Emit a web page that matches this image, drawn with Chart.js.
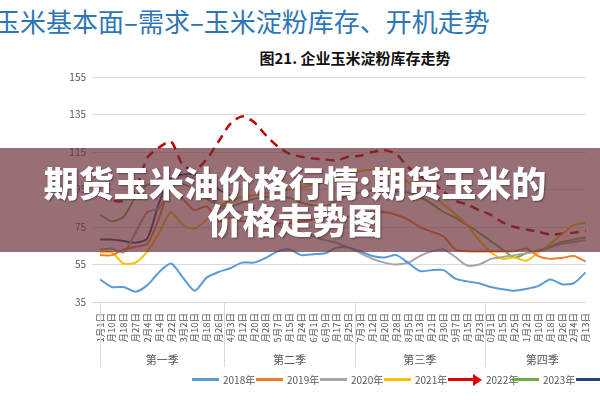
<!DOCTYPE html>
<html>
<head>
<meta charset="utf-8">
<script src="https://cdn.jsdelivr.net/npm/chart.js@4.4.0/dist/chart.umd.min.js"></script>
<style>
  body { margin: 0; width: 600px; height: 400px; overflow: hidden; background: #fff; position: relative; font-family: "Noto Sans CJK SC", sans-serif; }
  #title { position: absolute; left: -6px; top: 2px; font-size: 26px; color: #2e75b6; white-space: nowrap; }
  #subtitle { position: absolute; left: 0; width: 710px; top: 47px; text-align: center; font-size: 15px; font-weight: bold; color: #111; }
  #wrap { position: absolute; left: 0; top: 65px; width: 600px; height: 310px; }
  #band { position: absolute; left: 0; top: 148px; width: 600px; height: 104px; background: rgba(110, 50, 60, 0.7); color: #fff; text-align: center; font-weight: 900; font-size: 35px; line-height: 37px; padding-top: 15px; padding-right: 10px; box-sizing: border-box; text-shadow: 1px 1px 2px rgba(0,0,0,0.4); }
  .lg { position: absolute; top: 372px; font-size: 10px; color: #595959; white-space: nowrap; display: flex; align-items: center; }
  .lg i { display: inline-block; width: 27px; height: 3px; margin-right: 4px; }
</style>
</head>
<body>
<div id="title">玉米基本面–需求–玉米淀粉库存、开机走势</div>
<div id="subtitle">图21. 企业玉米淀粉库存走势</div>
<div id="wrap"><canvas id="chart"></canvas></div>
<div id="legend"></div>
<div id="band">期货玉米油价格行情:期货玉米的<br>价格走势图</div>
<script>
'use strict';

//#region Data

const dates = ['1月1日', '1月10日', '1月18日', '1月27日', '2月4日', '2月14日', '2月22日', '3月2日', '3月10日', '3月18日', '3月26日',
  '4月3日', '4月12日', '4月20日', '4月28日', '5月7日', '5月15日', '5月24日', '6月1日', '6月9日', '6月17日', '6月25日',
  '7月3日', '7月12日', '7月20日', '7月28日', '8月5日', '8月13日', '8月21日', '8月30日', '9月7日', '9月15日', '9月23日',
  '10月1日', '10月15日', '10月25日', '11月2日', '11月10日', '11月18日', '11月26日', '12月4日', '12月13日'];
const quarters = ['第一季', '第二季', '第三季', '第四季'];
const quarterEnds = [10, 21, 32];
const yTicks = [35, 55, 75, 95, 115, 135, 155];

const years = ['2018年', '2019年', '2020年', '2021年', '2022年', '2023年', '2024年'];
const v2018 = [47, 43, 43, 40.5, 44, 51, 55.5, 48, 41, 48, 51, 53, 56, 56, 58.5, 62, 63, 60, 60.5, 61, 64, 64,
  62, 59.5, 58.7, 60, 56, 51.5, 52, 52, 47.5, 46, 45, 43, 41.8, 41, 42, 43.5, 47, 44.5, 45, 50.8];
const v2019 = [60, 60, 63, 64.5, 66, 80, 97, 90, 84, 86, 78, 80, 78, 78, 77, 77, 77, 78, 79, 80, 80, 80.5,
  82, 83, 83, 81.5, 79, 75, 72.5, 70, 63, 62, 62, 62, 62, 62, 63.5, 59.5, 58, 58.5, 59.5, 56.6];
const v2020 = [63, 63.5, 61.4, 72, 83, 85, 98, 102, 101, 95, 86, 84, 83, 82.7, 79, 76, 73.6, 72, 70, 68, 66.5, 64,
  61, 58, 56, 55, 56, 59.5, 62, 63, 59, 54.5, 55, 58, 59, 60, 61, 62, 64, 66, 67, 68];
const v2021 = [61.4, 61.4, 55.5, 56, 62, 72, 83, 76, 74, 79, 86, 89, 91, 92, 93, 94, 95, 96, 97.5, 99, 101, 103.5,
  105, 105.6, 105.6, 104, 99, 95, 92, 87, 82, 76, 68, 61.5, 58, 58.7, 57, 61.4, 66, 71, 76, 77.3];
const v2022 = [92, 89, 89, 95, 112, 117.5, 120.5, 108, 105.5, 111, 120.5, 130, 134, 131, 124, 118, 114, 112.5, 111.5, 111, 110.5, 112.5,
  113, 115, 116, 114, 107, 102, 99, 94, 89, 87, 84, 81.5, 77.5, 75, 73.6, 72.5, 71, 71.5, 72, 73];
const v2023 = [81.6, 78, 80.5, 91, 97.5, 98.5, 99, 98, 95, 90, 87, 86, 88, 90, 91, 91, 90.6, 88, 86.5, 86, 89, 92,
  93.5, 94.5, 95, 94, 93.5, 91, 87.5, 83, 80, 76, 72, 67.5, 63, 58.7, 61, 62.5, 64.6, 67, 68.3, 69.4];
const v2024 = [68.3, 68.3, 67.5, 66.6, 69, 88, 101, 103, 103, 100, 95, 92];

const colors = ['#5b9bd5', '#ed7d31', '#a5a5a5', '#ffc000', '#c00000', '#70ad47', '#264478'];
const seriesValues = [v2018, v2019, v2020, v2021, v2022, v2023, v2024];

//#endregion

//#region Legend

const legendElem = document.getElementById('legend');
for (let i = 0; i < years.length; i++) {
  const item = document.createElement('div');
  item.className = 'lg';
  item.style.left = (192 + i * 64) + 'px';
  const swatch = document.createElement('i');
  swatch.style.background = i === 4 ? '#e00000' : colors[i];
  item.appendChild(swatch);
  if (i === 4) {
    const head = document.createElement('span');
    head.style.cssText = 'width:0;height:0;border-top:6px solid transparent;border-bottom:6px solid transparent;border-left:9px solid #e00000;margin-left:-6px;margin-right:4px;';
    item.appendChild(head);
  }
  item.appendChild(document.createTextNode(years[i]));
  legendElem.appendChild(item);
}

//#endregion

//#region Chart

const quarterPlugin = {
  id: 'quarters',
  afterDraw(chart) {
    const ctx = chart.ctx;
    const x = chart.scales.x;
    const area = chart.chartArea;
    const bottom = area.bottom + 65;
    const bounds = [area.left];
    quarterEnds.forEach(i => bounds.push((x.getPixelForValue(i) + x.getPixelForValue(i + 1)) / 2));
    bounds.push(area.right + 14);
    ctx.save();
    ctx.strokeStyle = '#d9d9d9';
    ctx.lineWidth = 1;
    for (let i = 0; i < bounds.length - 1; i++) {
      ctx.beginPath();
      ctx.moveTo(Math.round(bounds[i]) + 0.5, area.bottom);
      ctx.lineTo(Math.round(bounds[i]) + 0.5, bottom);
      ctx.stroke();
    }
    ctx.fillStyle = '#595959';
    ctx.font = '11px "Noto Sans CJK SC"';
    ctx.textAlign = 'center';
    ctx.textBaseline = 'middle';
    quarters.forEach((q, i) => ctx.fillText(q, (bounds[i] + bounds[i + 1]) / 2, area.bottom + 58));
    ctx.restore();
  }
};

const datasets = years.map((label, i) => ({
  label: label,
  data: seriesValues[i],
  borderColor: colors[i],
  borderWidth: i === 4 ? 2.5 : 2,
  borderDash: i === 4 ? [9, 6] : [],
  pointRadius: 0,
  tension: 0.25,
  fill: false
}));

new Chart(document.getElementById('chart'), {
  type: 'line',
  data: { labels: dates, datasets: datasets },
  options: {
    responsive: true,
    maintainAspectRatio: false,
    animation: false,
    layout: { padding: { top: 12, right: 2, bottom: 33, left: 0 } },
    plugins: { legend: { display: false }, tooltip: { enabled: false } },
    scales: {
      x: {
        offset: false,
        grid: { display: false },
        border: { color: '#d9d9d9' },
        ticks: { autoSkip: false, minRotation: 90, maxRotation: 90, color: '#595959', font: { size: 9.5, family: 'Noto Sans CJK SC' } },
        afterFit(scale) { scale.height = 40; }
      },
      y: {
        min: 35,
        max: 155,
        afterBuildTicks(scale) { scale.ticks = yTicks.map(v => ({ value: v })); },
        grid: { color: '#d9d9d9' },
        border: { display: false },
        ticks: { color: '#595959', padding: 6, font: { size: 10, family: 'Noto Sans CJK SC' } },
        afterFit(scale) { scale.width = 100; }
      }
    }
  },
  plugins: [quarterPlugin]
});

//#endregion
</script>
</body>
</html>
